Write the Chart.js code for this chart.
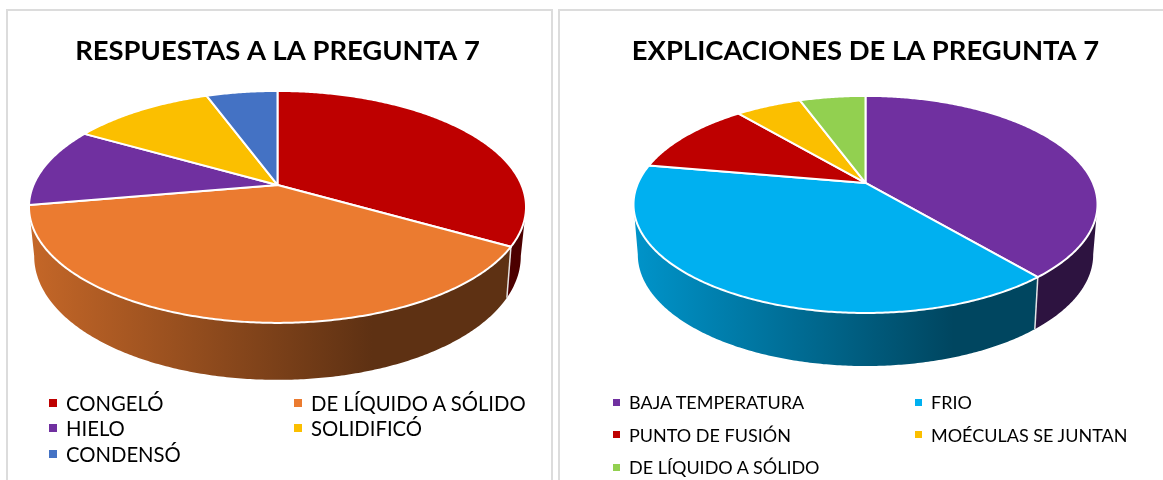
<!DOCTYPE html>
<html><head><meta charset="utf-8">
<script src="https://cdn.jsdelivr.net/npm/chart.js@4"></script>
<style>
html,body{margin:0;padding:0;background:#fff;width:1163px;height:480px;overflow:hidden;font-family:Lato,sans-serif}
.panel{position:absolute;top:9px;height:480px;border:2px solid #dcdcdc;box-sizing:border-box;background:#fff}
canvas{position:absolute;top:10px}
.legend{position:absolute;display:grid;color:#000}
.legend div{position:relative;white-space:nowrap;display:flex;align-items:center}
.legend i{position:absolute;display:block}
</style></head><body>
<div class="panel" style="left:6px;width:547px"></div>
<div class="panel" style="left:558px;width:620px"></div>
<canvas id="c1" width="541" height="470" style="left:8px"></canvas>
<canvas id="c2" width="595" height="470" style="left:568px"></canvas>
<div id="l1" class="legend" style="left:49px;top:390px;grid-template-columns:245px 245px;grid-auto-rows:25.5px;font-size:20.3px"></div>
<div id="l2" class="legend" style="left:613px;top:386px;grid-template-columns:302px 240px;grid-auto-rows:32.5px;font-size:18px"></div>
<script>
const title1 = 'RESPUESTAS A LA PREGUNTA 7';
const labels1 = ['CONGELÓ','DE LÍQUIDO A SÓLIDO','HIELO','SOLIDIFICÓ','CONDENSÓ'];
const values1 = [6,7,2,2,1];
const colors1 = ['#BE0000','#EB7B30','#7030A0','#FBBF00','#4472C4'];

const title2 = 'EXPLICACIONES DE LA PREGUNTA 7';
const labels2 = ['BAJA TEMPERATURA','FRIO','PUNTO DE FUSIÓN','MOÉCULAS SE JUNTAN','DE LÍQUIDO A SÓLIDO'];
const values2 = [7,7,2,1,1];
const colors2 = ['#7030A0','#00B0F0','#BE0000','#FBBF00','#92D050'];

function shade(hex,f){
  const n=parseInt(hex.slice(1),16);
  return `rgb(${Math.round((n>>16&255)*f)},${Math.round((n>>8&255)*f)},${Math.round((n&255)*f)})`;
}
// Draws Chart.js' own arc elements (their angles) as a tilted 3D disc.
const tilted3D = {
  id:'tilted3D',
  beforeDatasetDraw(chart,args,opts){
    const ctx=chart.ctx, meta=chart.getDatasetMeta(args.index), ds=chart.data.datasets[args.index];
    const arcs=meta.data, cx=arcs[0].x, cy=arcs[0].y;
    const top=t=>{const u=Math.cos(t),v=Math.sin(t),w=1+opts.p*v;
      return [cx+opts.R*u/w, cy+opts.k*v/w];};
    const base=t=>{const u=Math.cos(t),v=Math.sin(t),w=1+opts.p*v;
      return [cx+opts.sx*opts.R*u/(1+opts.p2*v), cy+opts.dy+opts.sy*opts.k*v/w];};
    const span=(a,b)=>{const pts=[],n=Math.max(2,Math.ceil((b-a)/0.01));
      for(let i=0;i<=n;i++)pts.push(a+(b-a)*i/n);return pts;};
    const halfW=opts.R*1.02, lo=0.2, hi=Math.PI-0.2;
    ctx.save();
    arcs.forEach((arc,i)=>{
      const s=Math.max(arc.startAngle,lo), e=Math.min(arc.endAngle,hi);
      if(e<=s)return;
      const g=ctx.createLinearGradient(cx-halfW,0,cx+halfW,0), c=ds.backgroundColor[i];
      g.addColorStop(0,shade(c,0.84));g.addColorStop(0.69,shade(c,0.4));g.addColorStop(1,shade(c,0.4));
      ctx.beginPath();
      span(s,e).forEach((t,j)=>{const q=top(t);j?ctx.lineTo(q[0],q[1]):ctx.moveTo(q[0],q[1]);});
      span(s,e).reverse().forEach(t=>{const q=base(t);ctx.lineTo(q[0],q[1]);});
      ctx.closePath();ctx.fillStyle=g;ctx.fill();
    });
    // seams between visible wall pieces
    ctx.strokeStyle='rgba(235,235,235,0.95)';ctx.lineWidth=1.5;
    arcs.forEach(arc=>{
      const t=arc.endAngle;
      if(t>lo&&t<hi){const q=top(t),r=base(t);
        ctx.beginPath();ctx.moveTo(q[0],q[1]);ctx.lineTo(r[0],r[1]);ctx.stroke();}
    });
    // top face
    arcs.forEach((arc,i)=>{
      ctx.beginPath();ctx.moveTo(cx,cy);
      span(arc.startAngle,arc.endAngle).forEach(t=>{const q=top(t);ctx.lineTo(q[0],q[1]);});
      ctx.closePath();
      ctx.fillStyle=ds.backgroundColor[i];ctx.fill();
      ctx.strokeStyle='#fff';ctx.lineWidth=2;ctx.lineJoin='round';ctx.stroke();
    });
    ctx.restore();
    return false;
  }
};
function makePie(id,legendId,title,labels,values,colors,titleSize,padding,geo){
  const chart=new Chart(document.getElementById(id),{
    type:'pie',
    data:{labels:labels,datasets:[{data:values,backgroundColor:colors}]},
    plugins:[tilted3D],
    options:{
      responsive:false,animation:false,events:[],
      layout:{padding:padding},
      plugins:{
        legend:{display:false},tooltip:{enabled:false},
        title:{display:true,text:title,color:'#000',padding:{top:25,bottom:5},
               font:{family:'Lato',weight:'bold',size:titleSize}},
        tilted3D:geo
      }
    }
  });
  const box=document.getElementById(legendId);
  const m=geo.marker;
  Chart.overrides.pie.plugins.legend.labels.generateLabels(chart).forEach(it=>{
    const d=document.createElement('div');
    d.style.paddingLeft=m.text+'px';
    const i=document.createElement('i');
    i.style.cssText=`left:0;top:50%;margin-top:-${m.size/2}px;width:${m.size}px;height:${m.size}px;background:${it.fillStyle}`;
    d.appendChild(i);d.appendChild(document.createTextNode(it.text));
    box.appendChild(d);
  });
}
makePie('c1','l1',title1,labels1,values1,colors1,27.4,{bottom:183,right:2},
  {p:-0.1896,p2:-0.2,k:111.8,R:244,sx:0.977,sy:1.078,dy:46.2,marker:{size:8,text:17}});
makePie('c2','l2',title2,labels2,values2,colors2,27.4,{bottom:187},
  {p:-0.198,p2:-0.2,k:104.3,R:227.4,sx:0.981,sy:1.028,dy:49.4,marker:{size:7,text:16}});
</script>
</body></html>
